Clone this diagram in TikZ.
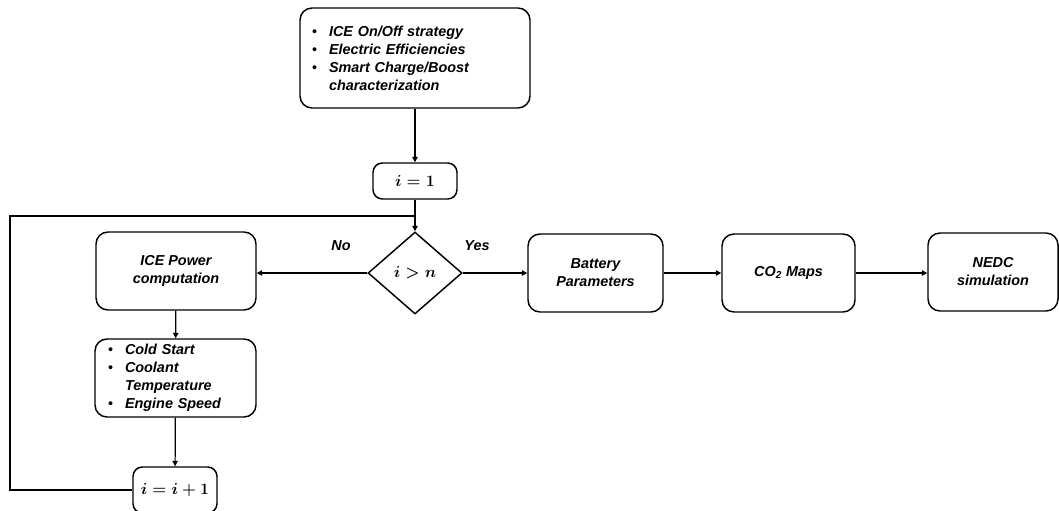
\documentclass[tikz,border=0pt]{standalone}
\usepackage{amsmath}
\usepackage{fontspec}
\setmainfont{Liberation Sans}
\usetikzlibrary{arrows.meta,shapes.geometric}
\newlength{\upx}\setlength{\upx}{0.75pt}
\tikzset{
  box/.style={draw, line width=1.1pt, rounded corners=9pt, inner sep=0pt,
    font=\fontsize{10.8}{13.5}\selectfont\bfseries\itshape, align=center},
  mbox/.style={draw, line width=1.1pt, rounded corners=7pt, inner sep=0pt,
    font=\fontsize{11.5}{13}\selectfont\boldmath},
  arr/.style={line width=0.9pt, -{Triangle[length=4pt,width=4pt]}},
  ln/.style={line width=0.9pt},
  lbl/.style={font=\fontsize{10.8}{13}\selectfont\bfseries\itshape}
}
\newcommand{\bul}{\makebox[17\upx][l]{\normalfont\textbullet}}
\begin{document}
\begin{tikzpicture}[x=0.75pt,y=-0.75pt]
\useasboundingbox (0,0) rectangle (1059,510);
\clip (0,0) rectangle (1059,510);
% nodes
\node[box, minimum width=230\upx, minimum height=100\upx, text width=206\upx, align=left] (top) at (415,58)
  {\bul ICE On/Off strategy\\ \bul Electric Efficiencies\\ \bul Smart Charge/Boost\\ \hspace*{17\upx}characterization};
\node[mbox, minimum width=84\upx, minimum height=36\upx] (i1) at (415,181) {$i=1$};
\node[draw, line width=1.1pt, diamond, inner sep=0pt, minimum width=94\upx, minimum height=82\upx, aspect=1.15, font=\fontsize{11.5}{13}\selectfont\boldmath] (dia) at (415,273) {$i>n$};
\node[box, minimum width=160\upx, minimum height=78\upx] (ice) at (176,271) {ICE Power\\computation};
\node[box, minimum width=161\upx, minimum height=78\upx, text width=135\upx, align=left] (cold) at (175.5,378)
  {\bul Cold Start\\ \bul Coolant\\ \hspace*{17\upx}Temperature\\ \bul Engine Speed};
\node[mbox, minimum width=84\upx, minimum height=46\upx] (ii) at (175,490) {$i=i+1$};
\node[box, minimum width=135\upx, minimum height=78\upx] (bat) at (595.5,273) {Battery\\Parameters};
\node[box, minimum width=133\upx, minimum height=78\upx] (co2) at (788.5,273) {CO\textsubscript{2} Maps};
\node[box, minimum width=130\upx, minimum height=78\upx] (nedc) at (993,272) {NEDC\\simulation};
\node[lbl] (no) at (341,246) {No};
\node[lbl] (yes) at (477,246) {Yes};
\coordinate (lpB) at (10,216);
\coordinate (junc) at (415,216);
% connectors
\draw[arr] (top) -- (i1);
\draw[arr] (i1) -- (dia);
\draw[arr] (dia.west) -- (dia.west -| ice.east);
\draw[arr] (ice) -- (cold);
\draw[arr] (cold) -- (ii);
\draw[ln] (ii.west) -| (lpB) -- (junc);
\draw[arr] (dia.east) -- (bat.west);
\draw[arr] (bat) -- (co2);
\draw[arr] (co2.east) -- (co2.east -| nedc.west);
\end{tikzpicture}
\end{document}
